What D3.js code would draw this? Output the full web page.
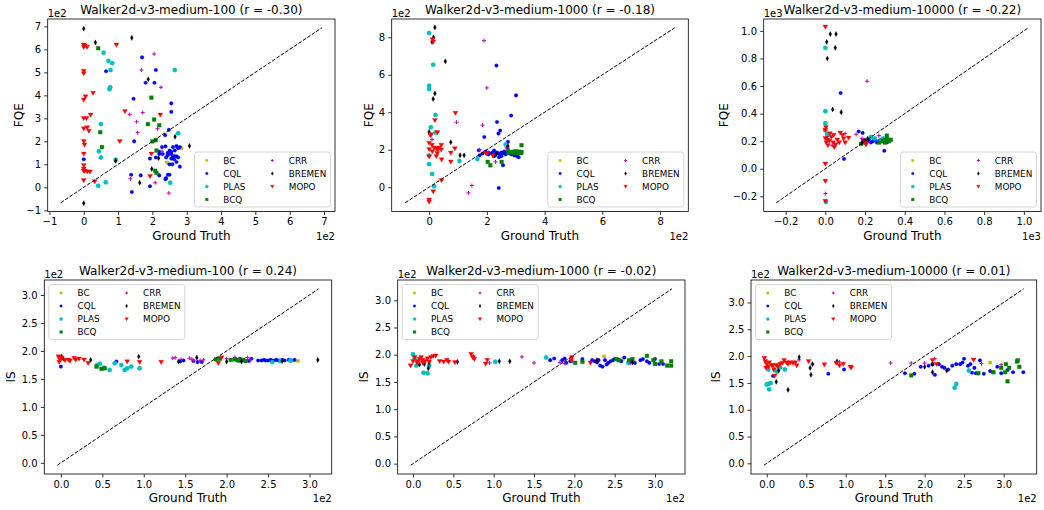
<!DOCTYPE html>
<html><head><meta charset="utf-8">
<script src="https://cdn.jsdelivr.net/npm/d3@7"></script>
<style>
body{margin:0;background:#fff;}
svg text{font-family:"DejaVu Sans",sans-serif;fill:#000;}
</style>
</head><body>
<svg id="chart" width="1044" height="510"></svg>
<script>
// ---------------- DATA ----------------
const methods = ["BC","CQL","PLAS","BCQ","CRR","BREMEN","MOPO"];
const titles = [
  "Walker2d-v3-medium-100 (r = -0.30)",
  "Walker2d-v3-medium-1000 (r = -0.18)",
  "Walker2d-v3-medium-10000 (r = -0.22)",
  "Walker2d-v3-medium-100 (r = 0.24)",
  "Walker2d-v3-medium-1000 (r = -0.02)",
  "Walker2d-v3-medium-10000 (r = 0.01)"
];
const yLabels = ["FQE","FQE","FQE","IS","IS","IS"];
const xLabel = "Ground Truth";
const offsetTexts = ["1e2","1e2","1e3","1e2","1e2","1e2"];
// min / max of the diagonal reference line (axes are square around it)
const diagRanges = [[-0.67,6.94],[-0.83,8.51],[-0.247,1.023],[-0.042,3.11],[-0.028,3.21],[-0.035,3.255]];
const tickValues = [
  [-1,0,1,2,3,4,5,6,7],
  [0,2,4,6,8],
  [-0.2,0,0.2,0.4,0.6,0.8,1.0],
  [0,0.5,1,1.5,2,2.5,3],
  [0,0.5,1,1.5,2,2.5,3],
  [0,0.5,1,1.5,2,2.5,3]
];
const tickFormats = ["d","d",".1f",".1f",".1f",".1f"];

// Panel 1 : FQE, 100
const fqe100_BC = [[2.85,1.7],[2.42,1.08],[2.43,1.43]];
const fqe100_CQL = [[1.7,5.65],[2.1,5.1],[0.65,5.05],[1.8,4.55],[2.06,4.55],[1.45,3.85],[2.55,3.65],[2.55,3.28],[2.48,2.5],[2.37,2.27],[1.47,2.0],[0,1.22],[2.28,1.75],[2.38,1.78],[2.5,1.6],[2.6,1.75],[2.7,1.8],[2.8,1.75],[2.45,1.5],[2.55,1.45],[2.6,1.35],[2.65,1.35],[2.7,1.35],[2.55,1.25],[2.63,1.22],[2.75,1.3],[2.5,1.0],[2.58,1.0],[2.7,1.1],[2.8,0.9],[2.2,1.45],[2.1,1.3],[2.2,1.55],[2.4,1.3],[2.45,1.4],[2.55,1.55],[2.65,1.6],[2.75,1.7],[2.3,1.45],[1.93,1.25],[1.38,0.55],[1.66,0.52],[1.4,-0.2],[1.93,0.05],[2.2,0.52],[2.45,0.55],[2.5,0.55],[2.4,0.4],[2.38,0.35]];
const fqe100_PLAS = [[0.58,5.85],[0.72,5.5],[0.83,5.4],[0.78,5.1],[0.77,4.35],[0.75,4.27],[2.65,5.1],[0.5,2.75],[2.75,2.35],[0.44,1.57],[0.5,1.3],[0.93,1.2],[0.64,0.22],[0.42,0.07],[2.52,0.2]];
const fqe100_BCQ = [[0.42,6.05],[1.97,3.9],[2.05,2.95],[1.87,2.75],[2.2,2.7],[0.48,2.4],[0.53,1.75],[2.1,2.05],[2.0,2.0],[2.12,1.6],[2.08,0.72],[2.12,0.63]];
const fqe100_CRR = [[2.05,5.8],[1.68,5.1],[2.25,4.35],[1.72,3.25],[1.34,3.17],[1.54,2.85],[1.57,2.38],[2.15,2.55],[2.28,1.57],[1.36,0.37],[2.08,0.2],[2.48,-0.25]];
const fqe100_BREMEN = [[0,6.9],[0.34,6.3],[1.4,6.5],[1.88,4.7],[2.66,2.2],[3.08,1.8],[0.93,1.15],[1.63,0.2],[1.98,0.8],[2.18,1.27],[0,-0.69]];
const fqe100_MOPO = [[0,6.2],[0,6.1],[0.1,6.1],[0.03,6.15],[0.95,6.2],[0,5.05],[0,4.95],[0.27,4.1],[0.05,3.95],[0,3.8],[0.2,3.15],[0,3.0],[0.08,3.0],[1.2,3.3],[2.23,3.15],[0,2.55],[0.1,2.6],[0.15,2.45],[0,2.0],[0.02,1.85],[1.05,2.0],[0,1.45],[1.97,1.45],[0,0.95],[0,0.8],[0,0.72],[0.02,0.7],[0.1,0.68],[0.18,0.67],[0.32,0.25],[0,0.3],[1.93,0.48]];

// Panel 2 : FQE, 1000
const fqe1000_BC = [[2.9,1.86]];
const fqe1000_CQL = [[2.33,6.49],[3.01,4.9],[2.84,3.82],[2.35,3.48],[2.46,3.02],[2.4,2.86],[1.91,2.68],[2.73,2.42],[2.41,-0.04],[2.56,1.17],[1.72,1.97],[1.85,1.8],[1.95,1.9],[2.05,1.85],[2.15,1.8],[2.2,1.85],[2.25,1.95],[2.3,1.75],[2.35,1.85],[2.4,1.8],[2.45,1.75],[2.5,1.85],[2.55,1.8],[2.6,1.9],[2.65,1.75],[2.7,1.85],[2.75,1.9],[2.8,1.8],[2.85,1.75],[2.9,1.85],[2.95,1.7],[3.0,1.75],[3.05,1.65],[2.05,1.75],[2.25,1.65],[2.5,1.65],[1.75,1.7],[2.42,1.6],[3.1,1.6]];
const fqe1000_PLAS = [[0,8.23],[0.14,6.54],[0,5.42],[0,5.24],[0.22,3.86],[0.06,3.2],[0.22,2.92],[0,1.7],[0,1.23],[0.1,0.71],[0.17,0.05],[1.05,1.4],[1.67,1.5],[2.65,2.28]];
const fqe1000_BCQ = [[2.03,1.35],[2.12,1.17],[2.51,1.35],[2.72,2.0],[3.2,2.24],[2.95,1.9],[3.0,1.9],[3.05,1.88],[3.1,1.9],[3.15,1.85],[3.2,1.88],[2.9,1.85],[3.0,1.82],[3.1,1.82],[3.18,1.82],[2.8,1.88],[2.75,1.85]];
const fqe1000_CRR = [[1.9,7.82],[2.0,5.3],[0.95,3.47],[1.85,3.31],[0.1,2.55],[1.75,2.0],[1.48,0.09],[1.36,-0.3],[2.3,1.35],[2.68,2.1]];
const fqe1000_BREMEN = [[0.2,8.53],[0.15,8.0],[0.1,7.75],[0.56,6.72],[0.2,5.0],[0.14,4.71],[0,2.95],[0.75,2.4],[1.07,1.7],[1.21,1.7],[2.33,1.78],[2.73,2.2]];
const fqe1000_MOPO = [[0.12,7.88],[0.14,7.75],[0.91,3.96],[0.2,3.57],[0.29,2.92],[0.06,2.8],[0,2.35],[0.1,2.25],[0.17,2.1],[0.25,2.05],[0.34,2.1],[0.42,2.25],[0.11,1.9],[0.28,1.8],[0.42,2.0],[0,2.02],[0,1.63],[0.25,1.65],[0.75,1.83],[0.89,2.06],[0.75,1.35],[0.43,1.47],[0.43,0.36],[0.14,-0.23],[0,-0.68],[0,-0.78],[1.95,1.83],[2.0,1.8],[2.21,1.69],[0.05,2.75],[0.3,2.0]];

// Panel 3 : FQE, 10000
const fqe10000_BC = [[0.27,0.19],[0.29,0.2]];
const fqe10000_CQL = [[0.077,0.55],[0.168,0.27],[0.188,0.26],[0.094,0.07],[0.297,0.13],[0.19,0.21],[0.21,0.2],[0.22,0.21],[0.24,0.2],[0.25,0.21],[0.27,0.2],[0.28,0.21],[0.3,0.2],[0.31,0.19],[0.32,0.2],[0.26,0.19],[0.23,0.19],[0.01,0.24]];
const fqe10000_PLAS = [[0,0.877],[0,0.417],[0,0.33],[0,0.28],[0.01,0.25],[0.003,-0.24],[0.23,0.23],[0.25,0.22],[0.28,0.2],[0.29,0.22]];
const fqe10000_BCQ = [[0.18,0.18],[0.2,0.19],[0.27,0.19],[0.29,0.2],[0.3,0.21],[0.31,0.22],[0.31,0.24],[0.32,0.2],[0.33,0.21],[0.3,0.19]];
const fqe10000_CRR = [[0.21,0.635],[0.1,0.255],[0.155,0.25],[0,-0.18],[0.034,0.17],[0.27,0.24],[0.185,0.22]];
const fqe10000_BREMEN = [[0.025,0.977],[0.054,0.977],[0.007,0.92],[0.05,0.877],[0.01,0.8],[0.037,0.43],[0.08,0.41],[0.2,0.205],[0.185,0.19],[0.213,0.218]];
const fqe10000_MOPO = [[0,1.03],[0.003,0.3],[0,0.28],[0.023,0.255],[0.042,0.243],[0.075,0.26],[0.087,0.243],[0.092,0.218],[0.07,0.19],[0.1,0.19],[0.117,0.223],[0.039,0.19],[0.052,0.175],[0.013,0.17],[0,0.22],[0.01,0.21],[0.02,0.2],[0.03,0.23],[0.005,0.19],[0.06,0.21],[0.045,0.155],[0,0.035],[0,-0.09],[0,-0.235],[0.2,0.19],[0.205,0.175]];

// Panel 4 : IS, 100
const is100_BC = [[2.86,1.82]];
const is100_CQL = [[0,1.72],[0.67,1.81],[1.44,1.81],[1.48,1.83],[1.65,1.8],[1.7,1.8],[2.16,1.86],[2.27,1.82],[2.38,1.83],[2.42,1.83],[2.45,1.84],[2.5,1.83],[2.53,1.84],[2.57,1.83],[2.6,1.84],[2.63,1.83],[2.67,1.84],[2.7,1.83],[2.78,1.83],[2.82,1.84],[2.55,1.82],[2.47,1.83],[2.75,1.84],[2.1,1.85],[2.2,1.84],[2.3,1.86],[1.6,1.82]];
const is100_PLAS = [[0.44,1.75],[0.47,1.77],[0.52,1.7],[0.59,1.66],[0.65,1.78],[0.73,1.75],[0.77,1.66],[0.8,1.69],[0.85,1.72],[0.95,1.69],[2.55,1.8],[2.65,1.82],[2.77,1.83],[2.14,1.83]];
const is100_BCQ = [[0.43,1.72],[0.49,1.68],[0.53,1.69],[1.87,1.85],[1.92,1.86],[2.05,1.84],[2.1,1.85],[2.13,1.84],[2.15,1.83],[2.2,1.84],[2.23,1.82]];
const is100_CRR = [[1.35,1.87],[1.38,1.88],[1.45,1.85],[1.55,1.87],[1.58,1.85],[1.6,1.83],[1.68,1.83],[1.72,1.84],[2.1,1.88],[2.25,1.88],[2.0,1.86],[2.28,1.85]];
const is100_BREMEN = [[0.01,1.9],[0.03,1.86],[0.36,1.84],[0.94,1.9],[1.42,1.81],[1.64,1.88],[2.0,1.81],[2.18,1.81],[2.67,1.82],[3.1,1.84]];
const is100_MOPO = [[-0.03,1.9],[-0.01,1.84],[-0.02,1.8],[0.01,1.87],[0.05,1.83],[0.09,1.84],[0.11,1.82],[0.16,1.87],[0.18,1.84],[0.22,1.86],[0.28,1.84],[0.33,1.78],[0.8,1.81],[0.95,1.8],[1.21,1.8],[1.9,1.78],[1.94,1.88]];

// Panel 5 : IS, 1000
const is1000_BC = [[2.37,1.97],[2.6,1.92]];
const is1000_CQL = [[1.7,1.9],[1.75,1.93],[1.85,1.9],[1.88,1.93],[1.9,1.85],[1.95,1.88],[2.1,1.92],[2.22,1.9],[2.25,1.88],[2.28,1.86],[2.32,1.8],[2.35,1.78],[2.38,1.9],[2.42,1.85],[2.45,1.88],[2.48,1.9],[2.5,1.92],[2.55,1.9],[2.58,1.88],[2.62,1.95],[2.68,1.88],[2.75,1.85],[2.82,1.9],[2.85,1.92],[2.9,1.88],[2.93,1.85],[3.0,1.92],[3.05,1.83],[3.1,1.83],[2.3,1.9],[2.4,1.82]];
const is1000_PLAS = [[0,2.01],[0.02,1.93],[0.04,1.8],[0.13,1.67],[0.18,1.66],[0.2,1.8],[1.02,1.87],[1.65,1.95],[2.67,1.85]];
const is1000_BCQ = [[2.01,1.85],[2.1,1.87],[2.52,1.92],[2.55,1.9],[2.68,1.9],[2.72,1.92],[2.9,1.98],[2.98,1.9],[3.0,1.83],[3.08,1.88],[3.15,1.8],[3.2,1.8],[3.2,1.88]];
const is1000_CRR = [[0.1,1.92],[0.95,1.85],[1.35,1.96],[1.5,1.85],[1.82,1.86],[1.88,1.84],[1.98,1.88],[2.7,1.85]];
const is1000_BREMEN = [[0.08,1.82],[0.14,1.83],[0.19,1.75],[0.2,1.85],[0.55,1.87],[0.75,1.96],[1.07,1.88],[1.2,1.88],[2.28,1.9],[2.72,1.86]];
const is1000_MOPO = [[-0.03,1.8],[0,1.88],[0.02,1.95],[0.05,1.85],[0.1,1.95],[0.12,1.9],[0.15,1.88],[0.18,1.93],[0.22,1.95],[0.25,1.97],[0.28,1.98],[0.12,1.85],[0.2,1.87],[0.08,1.92],[0.06,1.88],[0.33,1.88],[0.38,1.87],[0.42,1.9],[0.44,1.87],[0.52,1.86],[0.72,2.01],[0.74,1.95],[0.76,1.92],[0.9,1.83],[0.92,1.9],[1.97,1.95],[1.96,1.9],[2.2,1.85]];

// Panel 6 : IS, 10000
const is10000_BC = [[2.83,1.88]];
const is10000_CQL = [[0.08,1.63],[0.78,1.67],[0.98,1.75],[1.75,1.68],[1.87,1.67],[1.95,1.8],[2.05,1.82],[2.1,1.85],[2.13,1.65],[2.18,1.85],[2.25,1.78],[2.3,1.75],[2.35,1.82],[2.45,1.85],[2.48,1.88],[2.5,1.95],[2.55,1.82],[2.58,1.85],[2.6,1.69],[2.63,1.78],[2.65,1.68],[2.7,1.92],[2.75,1.67],[2.83,1.72],[2.87,1.7],[2.92,1.8],[2.97,1.68],[3.05,1.74],[3.12,1.7],[3.25,1.7],[2.22,1.8],[2.4,1.85]];
const is10000_PLAS = [[0,1.47],[0.02,1.48],[0.03,1.38],[0.05,1.5],[0.02,1.75],[0.1,1.74],[0.13,1.71],[0.17,1.79],[0.23,1.75],[2.38,1.41],[2.4,1.48],[2.56,1.73]];
const is10000_BCQ = [[1.83,1.64],[2.68,1.68],[2.87,1.7],[2.97,1.78],[3.02,1.7],[3.03,1.85],[3.05,1.53],[3.07,1.78],[3.17,1.9],[3.18,1.92],[3.2,1.8]];
const is10000_CRR = [[0.41,1.93],[0.92,1.89],[1.57,1.87],[1.83,1.87],[2.0,1.87],[2.13,1.95],[2.72,1.86],[2.97,1.84],[0.58,1.85]];
const is10000_BREMEN = [[0.12,1.52],[0.15,1.73],[0.27,1.37],[0.41,1.98],[0.55,1.78],[0.56,1.65],[0.58,1.85],[0.89,1.9],[2.0,1.8],[2.1,1.85],[2.1,1.7],[2.28,1.73]];
const is10000_MOPO = [[-0.03,1.96],[-0.02,1.9],[0,1.85],[0.02,1.8],[-0.01,1.78],[0.03,1.88],[0.06,1.83],[0.08,1.82],[0.1,1.63],[0.12,1.83],[0.14,1.8],[0.17,1.85],[0.2,1.87],[0.22,1.92],[0.25,1.88],[0.27,1.85],[0.3,1.88],[0.33,1.87],[0.36,1.88],[0.38,1.82],[0.53,1.9],[0.73,1.84],[0.88,1.87],[0.92,1.82],[0.97,1.85],[1.06,1.8],[1.07,1.78],[2.1,1.92],[2.15,1.85],[2.62,1.93],[0.09,1.75]];

const panelSeries = [
  [fqe100_BC,fqe100_CQL,fqe100_PLAS,fqe100_BCQ,fqe100_CRR,fqe100_BREMEN,fqe100_MOPO],
  [fqe1000_BC,fqe1000_CQL,fqe1000_PLAS,fqe1000_BCQ,fqe1000_CRR,fqe1000_BREMEN,fqe1000_MOPO],
  [fqe10000_BC,fqe10000_CQL,fqe10000_PLAS,fqe10000_BCQ,fqe10000_CRR,fqe10000_BREMEN,fqe10000_MOPO],
  [is100_BC,is100_CQL,is100_PLAS,is100_BCQ,is100_CRR,is100_BREMEN,is100_MOPO],
  [is1000_BC,is1000_CQL,is1000_PLAS,is1000_BCQ,is1000_CRR,is1000_BREMEN,is1000_MOPO],
  [is10000_BC,is10000_CQL,is10000_PLAS,is10000_BCQ,is10000_CRR,is10000_BREMEN,is10000_MOPO]
];

// ---------------- LAYOUT / STYLE ----------------
const frames = [
  {x0:47.7, x1:335,   y0:19,  y1:211.5, yl:29.5, legend:"lr"},
  {x0:391.7,x1:688.3, y0:19,  y1:211.5, yl:23.5, legend:"lr"},
  {x0:763.7,x1:1041,  y0:19,  y1:211.5, yl:40.5, legend:"lr"},
  {x0:44.3, x1:331.7, y0:280, y1:474,   yl:33.6, legend:"ul"},
  {x0:397.7,x1:685,   y0:280, y1:474,   yl:34.4, legend:"ul"},
  {x0:751,  x1:1036.7,y0:280, y1:474,   yl:35,   legend:"ul"}
];
const styles = {
  BC:{color:"#bfbf00", shape:"square", size:1.6},
  CQL:{color:"#0000ff", shape:"circle", size:1.8},
  PLAS:{color:"#00bfbf", shape:"circle", size:2.2},
  BCQ:{color:"#008000", shape:"square", size:1.9},
  CRR:{color:"#bf00bf", shape:"plus", size:2.0},
  BREMEN:{color:"#000000", shape:"thin_diamond", size:2.6},
  MOPO:{color:"#ff0000", shape:"tri_down", size:2.5}
};
function markerPath(shape, s){
  switch(shape){
    case "square": return `M${-s},${-s}H${s}V${s}H${-s}Z`;
    case "circle": return `M${s},0A${s},${s} 0 1,1 ${-s},0A${s},${s} 0 1,1 ${s},0Z`;
    case "plus": return `M${-s},0H${s}M0,${-s}V${s}`;
    case "thin_diamond": return `M0,${-s}L${s*0.55},0L0,${s}L${-s*0.55},0Z`;
    case "tri_down": return `M${-s},${-s*0.75}L${s},${-s*0.75}L0,${s*0.95}Z`;
  }
}
function drawMarker(g, m, x, y, scale){
  const st = styles[m];
  const p = g.append("path").attr("d", markerPath(st.shape, st.size*scale))
    .attr("transform", `translate(${x},${y})`);
  if (st.shape === "plus") p.attr("fill","none").attr("stroke",st.color).attr("stroke-width",1);
  else p.attr("fill", st.color).attr("stroke", st.color).attr("stroke-width", 0.3);
}

const svg = d3.select("#chart");
svg.append("rect").attr("width",1044).attr("height",510).attr("fill","#fff");

frames.forEach((f, i) => {
  const [lo, hi] = diagRanges[i];
  const m = (hi - lo) * 0.05;
  const dom = [lo - m, hi + m];
  const x = d3.scaleLinear().domain(dom).range([f.x0, f.x1]);
  const y = d3.scaleLinear().domain(dom).range([f.y1, f.y0]);
  const g = svg.append("g");
  const fmt = v => d3.format(tickFormats[i])(v);

  // axes
  const xAxis = d3.axisBottom(x).tickValues(tickValues[i]).tickSizeInner(3.5).tickSizeOuter(0).tickPadding(3.2).tickFormat(fmt);
  const yAxis = d3.axisLeft(y).tickValues(tickValues[i]).tickSizeInner(3.5).tickSizeOuter(0).tickPadding(3.2).tickFormat(fmt);
  const gx = g.append("g").attr("transform",`translate(0,${f.y1})`).call(xAxis);
  const gy = g.append("g").attr("transform",`translate(${f.x0},0)`).call(yAxis);
  [gx, gy].forEach(a => {
    a.select(".domain").remove();
    a.selectAll(".tick line").attr("stroke","#000").attr("stroke-width",0.8);
    a.selectAll(".tick text").attr("font-size","10px").attr("font-family","DejaVu Sans").attr("fill","#000");
  });

  // points
  const pg = g.append("g");
  methods.forEach((mth, k) => {
    panelSeries[i][k].forEach(d => drawMarker(pg, mth, x(d[0]), y(d[1]), 1));
  });

  // diagonal
  g.append("line").attr("x1", x(lo)).attr("y1", y(lo)).attr("x2", x(hi)).attr("y2", y(hi))
    .attr("stroke","#000").attr("stroke-width",1).attr("stroke-dasharray","3.7,1.6");

  // frame
  g.append("rect").attr("x",f.x0).attr("y",f.y0).attr("width",f.x1-f.x0).attr("height",f.y1-f.y0)
    .attr("fill","none").attr("stroke","#000").attr("stroke-width",0.8);

  // title & labels
  g.append("text").attr("x",(f.x0+f.x1)/2).attr("y",f.y0-5).attr("text-anchor","middle")
    .attr("font-size","12px").text(titles[i]);
  g.append("text").attr("x",(f.x0+f.x1)/2).attr("y",f.y1+28).attr("text-anchor","middle")
    .attr("font-size","12px").text(xLabel);
  g.append("text").attr("transform",`translate(${f.x0-f.yl},${(f.y0+f.y1)/2}) rotate(-90)`)
    .attr("text-anchor","middle").attr("dy","0.36em").attr("font-size","12px").text(yLabels[i]);
  g.append("text").attr("x",f.x0).attr("y",f.y0-2.5).attr("font-size","10px").text(offsetTexts[i]);
  g.append("text").attr("x",f.x1).attr("y",f.y1+28).attr("text-anchor","end").attr("font-size","10px").text(offsetTexts[i]);

  // legend
  const lw = 136, lh = 55, pad = 4.5;
  const lx = f.legend === "lr" ? f.x1 - pad - lw : f.x0 + pad;
  const ly = f.legend === "lr" ? f.y1 - pad - lh : f.y0 + pad;
  const lg = g.append("g").attr("transform",`translate(${lx},${ly})`);
  lg.append("rect").attr("width",lw).attr("height",lh).attr("rx",2.5)
    .attr("fill","#fff").attr("fill-opacity",0.8).attr("stroke","#cccccc").attr("stroke-width",0.8);
  methods.forEach((mth, k) => {
    const col = k < 4 ? 0 : 1, row = k < 4 ? k : k - 4;
    const cy = 8.5 + row * 13;
    const mx = col === 0 ? 12.3 : 77.8;
    const tx = col === 0 ? 28.8 : 94.3;
    drawMarker(lg, mth, mx, cy, 0.72);
    lg.append("text").attr("x",tx).attr("y",cy+3.2).attr("font-size","8.8px").text(mth);
  });
});
</script>
</body></html>
